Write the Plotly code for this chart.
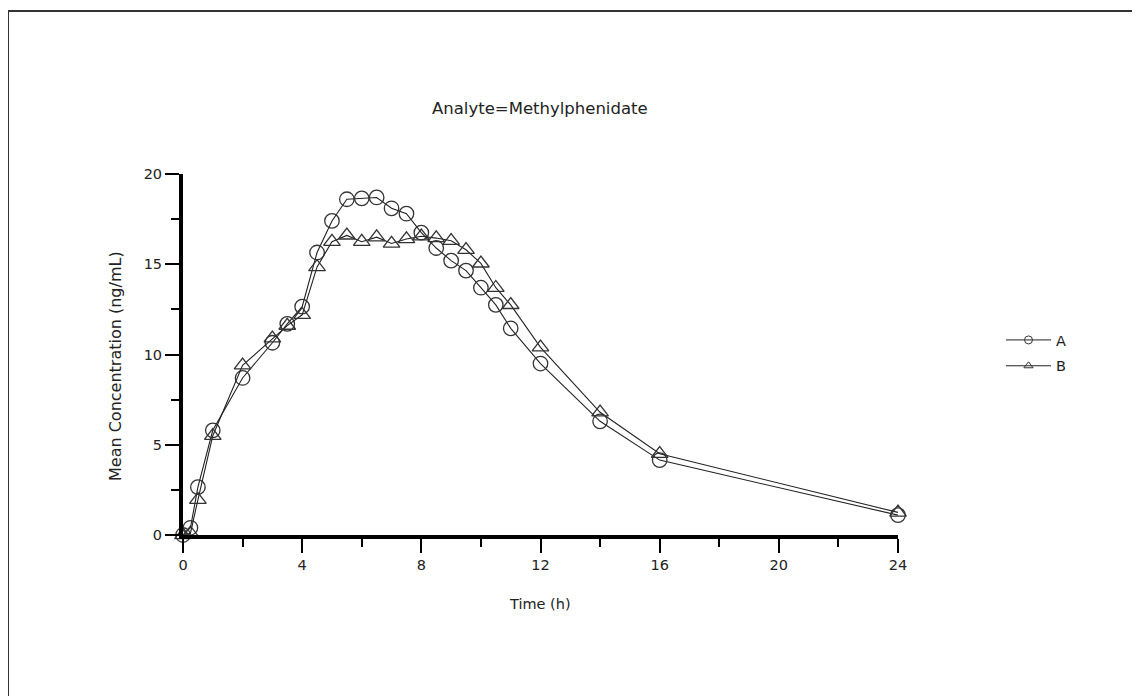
import plotly.graph_objects as go

time_h = [0, 0.25, 0.5, 1, 2, 3, 3.5, 4, 4.5, 5, 5.5, 6, 6.5, 7, 7.5, 8, 8.5, 9, 9.5, 10, 10.5, 11, 12, 14, 16, 24]
conc_a = [0, 0.4, 2.65, 5.8, 8.7, 10.65, 11.7, 12.65, 15.65, 17.4, 18.6, 18.65, 18.7, 18.1, 17.8, 16.75, 15.9, 15.2, 14.65, 13.7, 12.75, 11.45, 9.5, 6.3, 4.15, 1.1]
conc_b = [0, 0.1, 1.95, 5.5, 9.4, 10.9, 11.6, 12.2, 14.85, 16.25, 16.6, 16.25, 16.5, 16.15, 16.4, 16.55, 16.45, 16.3, 15.8, 15.05, 13.7, 12.75, 10.4, 6.8, 4.5, 1.25]
series_names = ["A", "B"]
x_ticks = [0, 4, 8, 12, 16, 20, 24]
y_ticks = [0, 5, 10, 15, 20]

FONT = "DejaVu Sans"
OFF = 8  # page body margin offset
L, R, T, B = 183, 898, 174, 535
W, H = 1140, 696

def px_x(p):
    return (p - L) / (R - L)

def px_y(p):
    return (B - p) / (B - T)

fig = go.Figure()
symbols = ["circle-open", "triangle-up-open"]
for name, ys, sym in zip(series_names, [conc_a, conc_b], symbols):
    fig.add_trace(go.Scatter(
        x=time_h, y=ys, mode="lines+markers", name=name, showlegend=False,
        line=dict(color="#222222", width=1.1),
        marker=dict(symbol=sym, size=14.5, color="#333333", line=dict(width=1.3, color="#333333")),
        cliponaxis=False,
    ))
    fig.add_trace(go.Scatter(
        x=[None], y=[None], mode="lines+markers", name=name, showlegend=True,
        legendgroup=name,
        line=dict(color="#222222", width=1),
        marker=dict(symbol=sym, size=8, color="#333333", line=dict(width=1, color="#333333")),
    ))

fig.update_layout(
    width=W, height=H,
    margin=dict(l=L - OFF, r=W - R + OFF, t=T - OFF, b=H - B + OFF, autoexpand=False),
    paper_bgcolor="white", plot_bgcolor="white",
    font=dict(family=FONT, size=14, color="#222222"),
    showlegend=True,
    legend=dict(x=px_x(1001), y=px_y(324), xanchor="left", yanchor="top",
                font=dict(size=14.5), bgcolor="rgba(0,0,0,0)", tracegroupgap=4,
                itemwidth=45),
    xaxis=dict(range=[0, 24], tickvals=x_ticks, showgrid=False, zeroline=False,
               showline=True, linewidth=4, linecolor="black",
               ticks="outside", ticklen=14, tickwidth=1.5, tickcolor="black",
               minor=dict(dtick=2, ticks="outside", ticklen=8, tickwidth=1.5, tickcolor="black", showgrid=False),
               tickfont=dict(size=14.5)),
    yaxis=dict(range=[0, 20], tickvals=y_ticks, showgrid=False, zeroline=False,
               showline=True, linewidth=4, linecolor="black",
               ticks="outside", ticklen=14, tickwidth=1.5, tickcolor="black",
               minor=dict(dtick=2.5, ticks="outside", ticklen=8, tickwidth=1.5, tickcolor="black", showgrid=False),
               tickfont=dict(size=14.5)),
    annotations=[
        dict(text="Analyte=Methylphenidate", xref="paper", yref="paper", x=px_x(540), y=px_y(109),
             showarrow=False, xanchor="center", yanchor="middle", font=dict(size=16.5)),
        dict(text="Time (h)", xref="paper", yref="paper", x=px_x(540), y=px_y(604),
             showarrow=False, xanchor="center", yanchor="middle", font=dict(size=14.5)),
        dict(text="Mean Concentration (ng/mL)", xref="paper", yref="paper", x=px_x(115), y=px_y(366),
             showarrow=False, xanchor="center", yanchor="middle", textangle=-90, font=dict(size=16)),
    ],
    shapes=[
        dict(type="rect", xref="paper", yref="paper", x0=px_x(8), y0=px_y(720), x1=px_x(1160), y1=px_y(11),
             line=dict(color="#333333", width=2), fillcolor="rgba(0,0,0,0)", layer="below"),
    ],
)

fig.write_html("out.html")
